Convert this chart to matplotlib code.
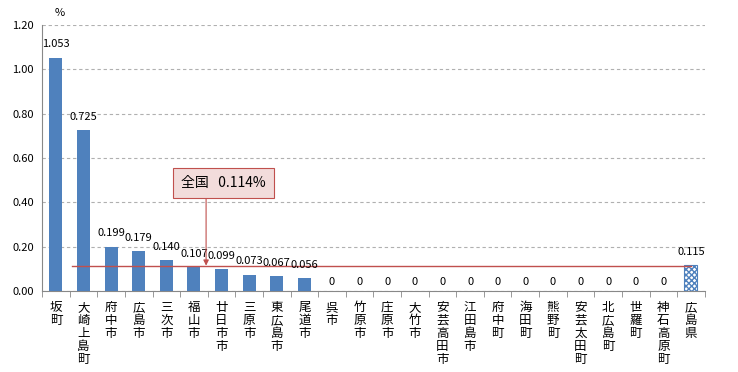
import matplotlib
matplotlib.use("Agg")
import matplotlib.pyplot as plt
import numpy as np

plt.rcParams['font.family'] = ['Noto Sans CJK JP', 'DejaVu Sans']

categories = ["坂町", "大崎上島町", "府中市", "広島市", "三次市", "福山市", "廿日市市", "三原市",
              "東広島市", "尾道市", "呉市", "竹原市", "庄原市", "大竹市", "安芸高田市", "江田島市",
              "府中町", "海田町", "熊野町", "安芸太田町", "北広島町", "世羅町", "神石高原町", "広島県"]
values = [1.053, 0.725, 0.199, 0.179, 0.140, 0.107, 0.099, 0.073, 0.067, 0.056,
          0, 0, 0, 0, 0, 0, 0, 0, 0, 0, 0, 0, 0, 0.115]
value_labels = ["1.053", "0.725", "0.199", "0.179", "0.140", "0.107", "0.099", "0.073", "0.067", "0.056",
                "0", "0", "0", "0", "0", "0", "0", "0", "0", "0", "0", "0", "0", "0.115"]
national = 0.114
yticks = [0.0, 0.2, 0.4, 0.6, 0.8, 1.0, 1.2]
ytick_labels = ["0.00", "0.20", "0.40", "0.60", "0.80", "1.00", "1.20"]

n = len(categories)
fig = plt.figure(figsize=(7.38, 3.72), dpi=100)
ax = fig.add_axes([0.057, 0.218, 0.898, 0.715])

x = np.arange(n)
blue = '#4f81bd'
ax.bar(x[:-1], values[:-1], width=0.47, color=blue, zorder=3)
ax.bar(x[-1], values[-1], width=0.47, facecolor='white', edgecolor=blue,
       hatch='xxxxxx', linewidth=0.8, zorder=3)

for xi, v, lab in zip(x, values, value_labels):
    ax.annotate(lab, (xi, v), xytext=(0, 6 if v > 0 else 3), textcoords='offset points',
                ha='center', va='bottom', fontsize=8, zorder=5)

ax.set_xlim(-0.5, n - 0.5)
ax.set_ylim(0, 1.2)
ax.set_yticks(yticks)
ax.set_yticklabels(ytick_labels, fontsize=8)
ax.yaxis.grid(True, linestyle=(0, (3, 2.5)), color='#b0b0b0', linewidth=0.8, zorder=0)
ax.set_axisbelow(True)

ax.set_xticks(x)
ax.set_xticklabels(["\n".join(c) for c in categories], fontsize=9, linespacing=1.0, va='top')
ax.tick_params(axis='x', which='major', length=0, pad=7)
ax.set_xticks(np.arange(-0.5, n, 1.0), minor=True)
ax.tick_params(axis='x', which='minor', length=4, color='#888888', direction='out')
ax.tick_params(axis='y', length=0, pad=6)

for s in ['top', 'right']:
    ax.spines[s].set_visible(False)
ax.spines['left'].set_color('#888888')
ax.spines['bottom'].set_color('#888888')

# national average line
ax.plot([0.6, n - 1], [national, national], color='#c0504d', linewidth=1.0, zorder=4)

# callout
ax.annotate("", xy=(5.44, national), xytext=(5.44, 0.43),
            arrowprops=dict(arrowstyle='-|>', color='#c0504d', linewidth=0.8, mutation_scale=8,
                            shrinkA=0, shrinkB=0), zorder=6)
ax.text(6.08, 0.487, "全国   0.114%", ha='center', va='center', fontsize=10,
        bbox=dict(boxstyle='square,pad=0.6', facecolor='#f2dcdb', edgecolor='#c0504d', linewidth=0.8),
        zorder=7)

fig.text(60 / 738, 1 - 13 / 372, "%", ha='center', va='center', fontsize=8)

fig.savefig("out.png", dpi=100)
